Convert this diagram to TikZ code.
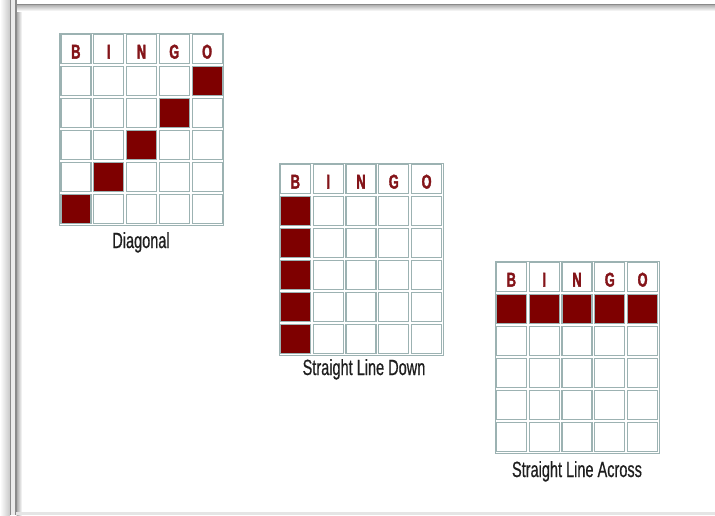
\documentclass[tikz,border=0pt]{standalone}
\usepackage{fontspec}
\setmainfont[FakeStretch=0.66,FakeBold=0.6]{Liberation Sans}
\newfontfamily\bingofont[FakeStretch=0.64,FakeBold=1.6]{Liberation Sans}
\definecolor{cellline}{HTML}{9CB2B2}
\definecolor{hitred}{HTML}{7E0000}
\definecolor{lettercol}{HTML}{841419}
\definecolor{labelcol}{HTML}{1E1E1E}
\definecolor{edgegray}{HTML}{8A8A8A}
\tikzset{
  cell/.style={draw=cellline,line width=1.2pt,minimum width=30pt,minimum height=29.2pt,inner sep=0pt,fill=white},
  hit/.style={cell,fill=hitred},
  letter/.style={font=\bingofont\bfseries\fontsize{20}{20}\selectfont,text=lettercol,anchor=base,inner sep=0pt},
  caption/.style={font=\fontsize{22}{22}\selectfont,text=labelcol,anchor=base,inner sep=0pt},
  gridframe/.style={draw=cellline,line width=1pt}
}
\newcommand\drawbingo[4]{%
  \draw[gridframe] (#2,#3) rectangle ++(164,192);
  \foreach \c [count=\i from 0] in {B,I,N,G,O} {
    \node[cell] (#1-\i-0) at ({#2+16.4+32.8*\i},{#3+16}) {};
    \node[letter] (#1-L\i) at ({#2+16.4+32.8*\i},{#3+25.6}) {\c};
  }
  \foreach \i in {0,...,4} {
    \foreach \j in {1,...,5} {
      \node[cell] (#1-\i-\j) at ({#2+16.4+32.8*\i},{#3+16+32*\j}) {};
    }
  }
  \foreach \i/\j in {#4} {
    \node[hit] (#1-h-\i-\j) at ({#2+16.4+32.8*\i},{#3+16+32*\j}) {};
  }
}
\begin{document}
\begin{tikzpicture}[x=1pt,y=-1pt]
\useasboundingbox (0,0) rectangle (715,515);
\fill[white] (0,0) rectangle (715,515);
% page frame
\shade[left color=white,right color=black!22] (0,0) rectangle (10,515);
\fill[black!8] (11.3,0) rectangle (15,515);
\shade[left color=black!35,right color=white] (16.5,5) rectangle (22,515);
\shade[top color=black!30,bottom color=white] (16,5) rectangle (715,11);
\draw[edgegray,line width=1.4pt] (10.5,0) -- (10.5,515);
\draw[edgegray,line width=1.6pt] (15.8,0) -- (15.8,515);
\draw[edgegray,line width=1.4pt] (15,4.3) -- (715,4.3);
\fill[black!10] (16,512) rectangle (715,515);
% grids
\drawbingo{g1}{59.5}{33}{4/1,3/2,2/3,1/4,0/5}
\drawbingo{g2}{279}{163}{0/1,0/2,0/3,0/4,0/5}
\drawbingo{g3}{495}{261}{0/1,1/1,2/1,3/1,4/1}
% captions
\node[caption] (c1) at (141,248) {Diagonal};
\node[caption] (c2) at (364,375) {Straight Line Down};
\node[caption] (c3) at (577,477) {Straight Line Across};
\end{tikzpicture}
\end{document}
